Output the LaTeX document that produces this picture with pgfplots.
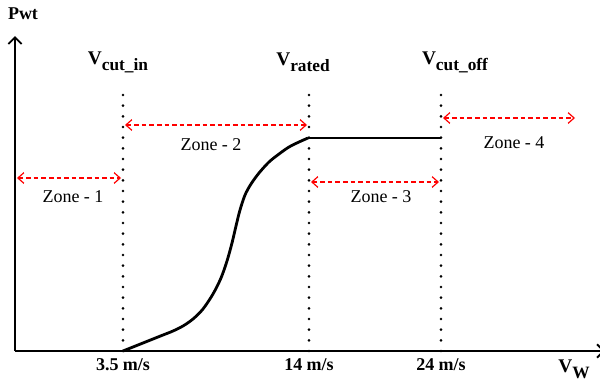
\documentclass[border=0pt]{standalone}
\usepackage{fontspec}
\setmainfont{Liberation Serif}
\usepackage{pgfplots}
\pgfplotsset{compat=1.18}
\usetikzlibrary{arrows.meta}
\newcommand{\fs}{\fontsize{13.5}{16}\selectfont}
\newcommand{\lbl}[2]{\textbf{\fontsize{14.5}{16}\selectfont #1\raisebox{-4.5pt}{\fontsize{13}{15}\selectfont #2}}}
\begin{document}
\begin{tikzpicture}
\useasboundingbox (0,0) rectangle (450pt,287.25pt);
\begin{axis}[
  at={(11.25pt,24pt)}, anchor=south west,
  scale only axis, width=442.5pt, height=236.25pt,
  xmin=0, xmax=590, ymin=0, ymax=315,
  axis lines=left, clip=false,
  axis line style={line width=1.4pt, -{Straight Barb[length=5pt,width=10pt,line width=1.4pt]}},
  xtick={108,294,426},
  xticklabels={\textbf{3.5 m/s},\textbf{14 m/s},\textbf{24 m/s}},
  ytick=\empty,
  major tick length=0pt,
  tick label style={font=\fs},
  xticklabel style={yshift=-2pt},
  zone/.style={red, line width=0.9pt, dash pattern=on 3.5pt off 2.2pt, {Straight Barb[length=4.5pt,width=8pt,line width=0.9pt]}-{Straight Barb[length=4.5pt,width=8pt,line width=0.9pt]}},
  dots/.style={black, line width=2.2pt, line cap=round, dash pattern=on 0pt off 8pt},
]
% dotted verticals
\addplot[dots] coordinates {(108,0) (108,258)};
\addplot[dots] coordinates {(294,0) (294,258)};
\addplot[dots] coordinates {(426,0) (426,258)};
% power curve
\addplot[black, line width=2.1pt, smooth, tension=0.5] coordinates {
 (108,0) (118,4) (128,8) (138,12) (148,16) (158,20) (168,25) (178,32)
 (188,42) (198,57) (206,73) (212,90) (217,108) (221,125) (225,141)
 (230,156) (236,167) (244,178) (254,189) (264,197) (274,204) (284,209) (293,213)};
\addplot[black, line width=2.1pt] coordinates {(293,213) (426,213)};
% zone arrows
\addplot[zone] coordinates {(2,173) (106,173)};
\addplot[zone] coordinates {(110,226) (292,226)};
\addplot[zone] coordinates {(296,169) (424,169)};
\addplot[zone] coordinates {(428,233) (560,233)};
% zone labels
\node[font=\fs] at (axis cs:58,154) {Zone - 1};
\node[font=\fs] at (axis cs:196,206) {Zone - 2};
\node[font=\fs] at (axis cs:366,154) {Zone - 3};
\node[font=\fs] at (axis cs:499,208) {Zone - 4};
% speed labels
\node at (axis cs:103,289) {\lbl{V}{cut\_in}};
\node at (axis cs:288,289) {\lbl{V}{rated}};
\node at (axis cs:440,289) {\lbl{V}{cut\_off}};
\node at (axis cs:559,-18) {\lbl{V}{W}};
\node[font=\fs] at (axis cs:8,337) {\textbf{Pwt}};
\end{axis}
\end{tikzpicture}
\end{document}
